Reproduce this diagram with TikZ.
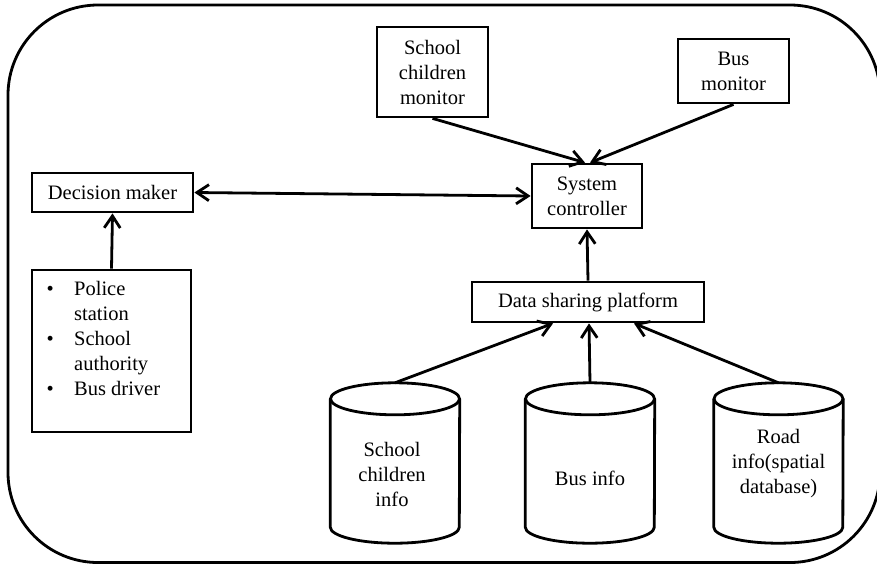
\documentclass[tikz,border=0pt]{standalone}
\usepackage{fontspec}
\setmainfont{Liberation Serif}
\usetikzlibrary{arrows.meta,calc}
\begin{document}
\begin{tikzpicture}[x=1pt,y=-1pt,
  every node/.style={font=\fontsize{20.5}{25}\selectfont, inner sep=0pt},
  ln/.style={line width=2.8pt},
  box/.style={draw, ln, align=center},
  arr/.style={ln, -{Straight Barb[length=12pt,width=16pt]}},
  arrboth/.style={ln, {Straight Barb[length=12pt,width=16pt]}-{Straight Barb[length=12pt,width=16pt]}},
  cylbox/.style={minimum width=129pt, minimum height=160pt}]
\useasboundingbox (0,0) rectangle (877,568);
% outer frame
\draw[line width=2.8pt, rounded corners=90pt] (8,5) rectangle (880,562.5);

% boxes
\node[box, minimum width=111pt, minimum height=90pt] (scm) at (432.5,72) {School\\children\\monitor};
\node[box, minimum width=111pt, minimum height=64pt] (bm) at (733.5,71) {Bus\\monitor};
\node[box, minimum width=110pt, minimum height=64pt] (sc) at (587,196) {System\\controller};
\node[box, minimum width=161pt, minimum height=39pt] (dm) at (112.5,192.5) {Decision maker};
\node[draw, ln, minimum width=159pt, minimum height=162pt] (stake) at (111.5,351) {};
\node[anchor=base west, align=left] (stakelist) at (46.5,295) {\begin{tabular}[t]{@{}p{27.5pt}@{}l@{}}•&Police\\&station\\•&School\\&authority\\•&Bus driver\end{tabular}};
\node[box, minimum width=232pt, minimum height=40pt] (dsp) at (588,302) {Data sharing platform};

% cylinders
\node[cylbox] (c1) at (395,463) {};
\node[cylbox] (c2) at (590,463) {};
\node[cylbox] (c3) at (778.5,463) {};
\foreach \c in {c1,c2,c3}{
  \draw[ln] ($(\c.north)+(0,16)$) ellipse [x radius=64.5pt, y radius=16pt];
  \draw[ln] ($(\c.north west)+(0,16)$) -- ($(\c.south west)+(0,-16)$)
     arc[start angle=180, end angle=360, x radius=64.5pt, y radius=16pt]
     -- ($(\c.north east)+(0,16)$);
}
\node[align=center] (t1) at (392,474) {School\\children\\info};
\node[align=center] (t2) at (590,478) {Bus info};
\node[align=center] (t3) at (778.5,464) {Road\\info(spatial\\database)};

% connectors
\draw[arr] (scm.south) -- ($(sc.north)+(-2,0)$);
\draw[arr] (bm.south) -- ($(sc.north)+(3,0)$);
\draw[arrboth] (dm.east) -- (sc.west);
\draw[arr] (stake.north) -- (dm.south);
\draw[arr] (dsp.north) -- (sc.south);
\draw[arr] (c1.north) -- ($(dsp.south)+(-35,0)$);
\draw[arr] (c2.north) -- ($(dsp.south)+(1,0)$);
\draw[arr] (c3.north) -- ($(dsp.south)+(46,0)$);
\end{tikzpicture}
\end{document}
